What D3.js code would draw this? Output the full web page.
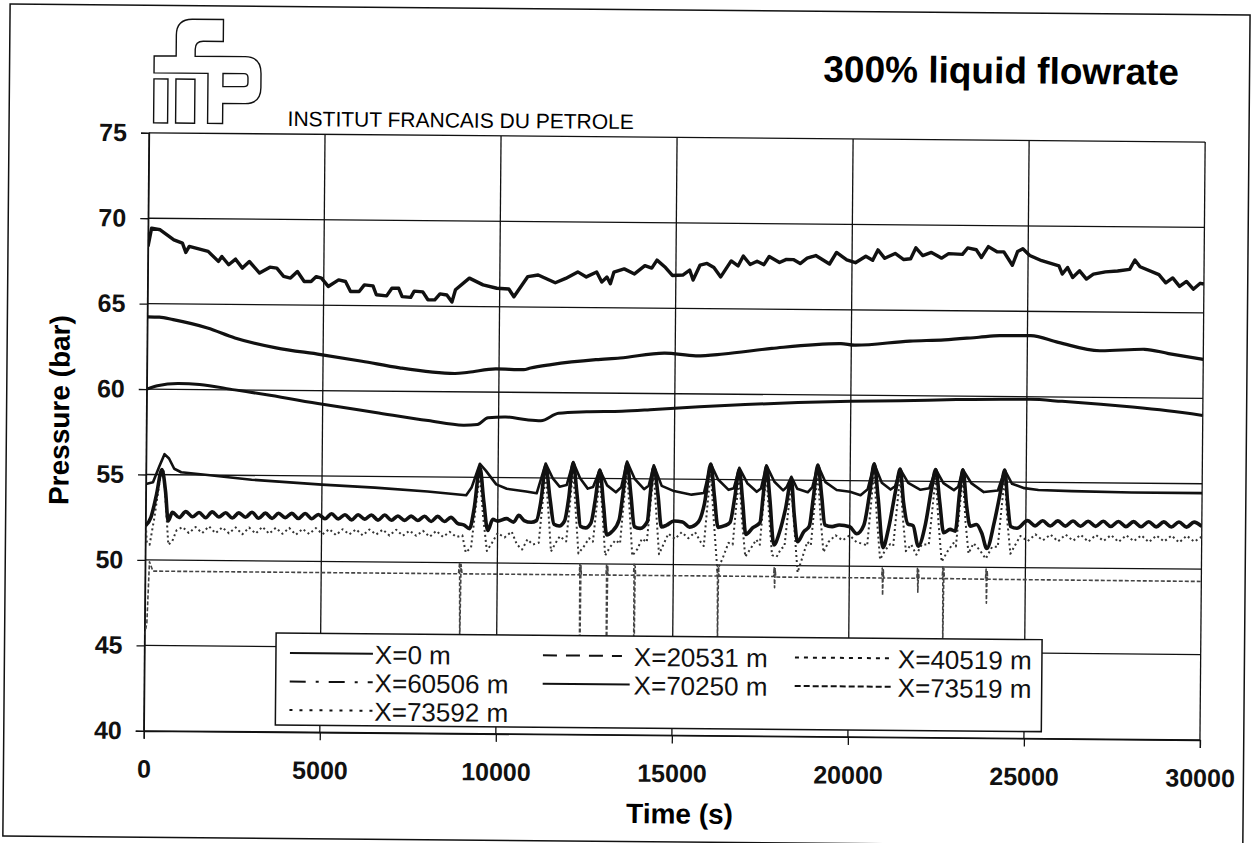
<!DOCTYPE html>
<html>
<head>
<meta charset="utf-8">
<script src="https://cdn.jsdelivr.net/npm/d3@7"></script>
<style>
body { margin: 0; background: #fff; }
text { font-family: "Liberation Sans", Arial, sans-serif; }
</style>
</head>
<body>
<div id="chart"></div>
<script>
// ---- data (time in s, pressure in bar) ----
var xTicks = [0, 5000, 10000, 15000, 20000, 25000, 30000];
var yTicks = [40, 45, 50, 55, 60, 65, 70, 75];
var seriesNames = ["X=0 m", "X=20531 m", "X=40519 m", "X=60506 m", "X=70250 m", "X=73519 m", "X=73592 m"];

var x0m = [[0,68.35],[98,69.42],[342,69.33],[733,68.75],[977,68.56],[1075,68.02],[1172,68.37],[1710,68.09],[2003,67.51],[2100,67.8],[2296,67.32],[2491,67.65],[2687,67.13],[2882,67.52],[3175,66.85],[3468,67.2],[3664,67.15],[3859,66.67],[4055,66.57],[4250,66.96],[4445,66.38],[4641,66.38],[4787,66.67],[4934,66.58],[5129,66.1],[5422,66.49],[5618,66.4],[5764,65.82],[6009,65.82],[6155,66.21],[6400,66.16],[6497,65.64],[6790,65.58],[6937,66.03],[7132,66.03],[7230,65.54],[7474,65.5],[7572,65.87],[7816,65.83],[7963,65.37],[8158,65.37],[8305,65.72],[8500,65.66],[8646,65.25],[8744,65.97],[9135,66.66],[9526,66.27],[9917,66.08],[10259,66.04],[10405,65.59],[10796,66.78],[11089,66.88],[11577,66.43],[11871,66.69],[12213,67.08],[12457,66.79],[12750,67.08],[12897,66.5],[13043,66.79],[13141,66.4],[13238,67.08],[13531,67.28],[13824,66.99],[14118,67.48],[14313,67.34],[14460,67.81],[14704,67.38],[14900,66.92],[15196,66.95],[15392,67.24],[15490,66.66],[15686,67.54],[15882,67.64],[16078,67.41],[16274,66.86],[16568,67.8],[16764,67.51],[16911,68.09],[17107,67.6],[17303,67.79],[17499,67.6],[17646,68.08],[17940,67.73],[18136,67.92],[18332,67.91],[18528,67.68],[18724,68.0],[18969,68.16],[19361,67.67],[19557,68.35],[19851,67.92],[20096,67.76],[20390,68.14],[20586,67.91],[20733,68.52],[20929,68.03],[21223,68.32],[21468,67.97],[21664,68.02],[21811,68.66],[22007,68.21],[22252,68.4],[22546,68.07],[22742,68.34],[23134,68.3],[23281,68.68],[23526,68.58],[23673,68.13],[23869,68.77],[24114,68.47],[24310,68.47],[24555,67.69],[24702,68.5],[24849,68.66],[25045,68.27],[25388,67.97],[25878,67.68],[25976,67.2],[26123,67.59],[26270,67.01],[26466,67.4],[26662,66.92],[26858,67.21],[27201,67.35],[27544,67.41],[27887,67.51],[28034,68.06],[28181,67.67],[28720,67.22],[28916,66.74],[29112,67.03],[29308,66.54],[29504,66.83],[29700,66.38],[29896,66.73],[30000,66.69]];

var x20531m = [[0,64.23],[342,64.22],[733,64.08],[1710,63.61],[2491,63.04],[3664,62.48],[4934,62.11],[6106,61.74],[7181,61.37],[8744,61.07],[9135,61.15],[9917,61.36],[10698,61.33],[10894,61.43],[11480,61.64],[12750,61.95],[13434,62.06],[14704,62.37],[15588,62.23],[16372,62.35],[17744,62.7],[19704,63.02],[20096,62.93],[21664,63.2],[22644,63.29],[23624,63.46],[24212,63.56],[25094,63.58],[25878,63.2],[27054,62.73],[28328,62.84],[29014,62.6],[30000,62.28]];

var x40519m = [[0,60.0],[300,60.2],[900,60.35],[1500,60.3],[2500,60.0],[3500,59.7],[5000,59.2],[6500,58.75],[8000,58.3],[9000,58.05],[9400,58.1],[9700,58.5],[10200,58.55],[10800,58.4],[11200,58.35],[11700,58.8],[12500,58.9],[13500,58.95],[14300,59.05],[15000,59.15],[15700,59.25],[17000,59.4],[18500,59.55],[20000,59.65],[21400,59.7],[23000,59.8],[24500,59.85],[25100,59.85],[26000,59.75],[27100,59.6],[28000,59.45],[29000,59.25],[30000,59.0]];

var x60506m = [[0,54.45],[200,54.55],[380,55.5],[520,56.2],[650,55.95],[800,55.35],[1000,55.15],[1750,55.0],[3000,54.75],[5000,54.5],[6500,54.35],[8000,54.15],[9100,53.95],[9250,54.4],[9480,55.8],[9650,55.4],[9950,54.6],[10250,54.35],[10800,54.2],[11100,54.1],[11350,55.85],[11550,55.0],[11750,54.5],[11950,54.6],[12130,55.95],[12330,55.0],[12550,54.4],[12700,54.5],[12890,55.5],[13100,54.6],[13350,54.2],[13500,54.5],[13660,56.0],[13880,55.0],[14150,54.4],[14280,54.6],[14420,55.8],[14650,54.6],[15000,54.3],[15500,54.1],[15850,54.2],[16040,55.9],[16250,55.0],[16550,54.4],[16700,54.5],[16850,55.7],[17080,54.8],[17350,54.3],[17470,54.5],[17620,55.85],[17850,54.9],[18100,54.4],[18200,54.6],[18330,55.2],[18500,54.5],[18800,54.3],[18930,54.6],[19080,55.9],[19300,54.9],[19620,54.45],[20000,54.35],[20300,54.15],[20500,54.5],[20680,56.0],[20900,54.9],[21150,54.5],[21280,54.7],[21420,55.7],[21650,54.9],[22000,54.5],[22250,54.6],[22430,55.7],[22650,54.9],[22950,54.5],[23070,54.7],[23200,55.7],[23450,54.9],[23800,54.4],[24200,54.5],[24390,55.7],[24600,54.9],[24950,54.65],[25350,54.55],[26300,54.5],[28000,54.45],[30000,54.45]];

var x70250m = [[0,52.0],[150,52.5],[300,53.8],[450,55.3],[560,54.0],[640,52.3],[760,52.8],[950,52.5],[1140,52.85],[1330,52.55],[1515,52.8],[1705,52.5],[1890,52.85],[2080,52.55],[2270,52.8],[2460,52.5],[2645,52.8],[2835,52.55],[3020,52.85],[3210,52.5],[3400,52.8],[3590,52.5],[3775,52.8],[3965,52.55],[4150,52.8],[4340,52.5],[4530,52.8],[4720,52.5],[4905,52.75],[5095,52.5],[5280,52.8],[5470,52.5],[5660,52.75],[5850,52.45],[6035,52.75],[6225,52.5],[6410,52.75],[6600,52.45],[6790,52.75],[6980,52.45],[7165,52.7],[7355,52.45],[7540,52.7],[7730,52.45],[7920,52.7],[8110,52.4],[8295,52.7],[8485,52.4],[8670,52.65],[8860,52.3],[9050,52.2],[9200,52.0],[9330,53.2],[9480,55.6],[9600,53.6],[9720,51.9],[9860,52.55],[10000,52.45],[10250,52.6],[10450,52.4],[10600,52.8],[10750,52.5],[10950,52.4],[11100,52.5],[11220,53.6],[11350,55.7],[11480,53.8],[11600,52.3],[11750,52.2],[11900,52.5],[12010,53.8],[12130,55.9],[12250,54.0],[12350,52.2],[12500,52.1],[12650,52.4],[12770,53.8],[12890,55.5],[13000,53.5],[13100,51.7],[13250,51.9],[13450,52.6],[13560,54.3],[13660,55.9],[13780,54.0],[13880,52.2],[14050,52.1],[14250,52.5],[14330,54.2],[14420,55.7],[14550,54.0],[14650,52.2],[14800,52.3],[15000,52.55],[15250,52.5],[15450,52.2],[15700,52.5],[15870,53.6],[16040,55.9],[16150,54.0],[16260,52.2],[16450,52.3],[16600,52.5],[16730,54.0],[16850,55.6],[16950,53.8],[17050,51.8],[17250,52.2],[17450,52.5],[17530,54.0],[17620,55.8],[17720,54.0],[17850,51.2],[18000,51.9],[18170,53.3],[18330,55.0],[18420,53.0],[18520,51.4],[18700,52.0],[18850,52.3],[18960,54.0],[19080,55.9],[19200,54.0],[19290,52.4],[19500,52.3],[19700,52.4],[20000,52.3],[20200,51.9],[20400,52.4],[20560,54.3],[20680,56.0],[20800,54.0],[20950,51.1],[21100,52.2],[21300,54.5],[21420,55.7],[21520,53.8],[21650,52.5],[21800,52.4],[21950,51.2],[22150,52.5],[22310,54.5],[22430,55.7],[22550,53.8],[22670,52.0],[22850,52.2],[23000,52.1],[23110,54.3],[23200,55.7],[23320,53.5],[23420,52.4],[23600,52.5],[23750,52.0],[23900,51.1],[24100,52.6],[24280,54.5],[24390,55.7],[24480,53.8],[24570,52.4],[24750,52.3],[25050,52.75],[25265,52.45],[25480,52.75],[25695,52.45],[25910,52.75],[26125,52.45],[26340,52.75],[26555,52.45],[26770,52.75],[26985,52.45],[27200,52.75],[27415,52.45],[27630,52.75],[27845,52.45],[28060,52.75],[28275,52.45],[28490,52.75],[28705,52.45],[28920,52.75],[29135,52.45],[29350,52.75],[29565,52.45],[29780,52.75],[30000,52.5]];

var x73519m = [[0,45.6],[60,46.3],[120,49.9],[220,49.35],[8900,49.35],[8930,50.0],[8950,45.3],[8970,49.9],[9000,49.35],[12330,49.35],[12345,50.0],[12360,41],[12375,49.9],[12390,49.35],[13090,49.35],[13105,50.0],[13120,41],[13135,49.9],[13150,49.35],[13870,49.35],[13885,50.0],[13900,41],[13915,49.9],[13930,49.35],[16240,49.35],[16255,50.0],[16270,45.3],[16285,49.9],[16300,49.35],[17850,49.35],[17865,49.9],[17880,48.7],[17895,49.8],[17910,49.32],[20920,49.32],[20935,49.9],[20950,48.3],[20965,49.8],[20980,49.32],[21920,49.32],[21935,49.9],[21950,48.5],[21965,49.8],[21980,49.32],[22640,49.32],[22655,50.0],[22670,45.4],[22685,49.9],[22700,49.32],[23870,49.3],[23885,49.9],[23900,47.9],[23915,49.8],[23930,49.3],[30000,49.28]];

var x73592m = [[0,52.3],[40,51.0],[120,50.9],[250,52.5],[400,54.8],[500,55.2],[580,53.0],[650,50.9],[760,51.1],[880,51.75],[1050,51.95],[1230,51.6],[1420,51.95],[1610,51.6],[1800,52.0],[1990,51.6],[2180,51.95],[2370,51.6],[2560,51.95],[2750,51.55],[2940,51.95],[3130,51.6],[3320,52.0],[3510,51.6],[3700,51.95],[3890,51.6],[4080,51.95],[4270,51.55],[4460,51.9],[4650,51.6],[4840,51.95],[5030,51.6],[5220,51.9],[5410,51.55],[5600,51.9],[5790,51.6],[5980,51.9],[6170,51.55],[6360,51.9],[6550,51.6],[6740,51.9],[6930,51.55],[7120,51.9],[7310,51.55],[7500,51.85],[7690,51.55],[7880,51.85],[8070,51.5],[8260,51.85],[8450,51.5],[8640,51.8],[8830,51.5],[9000,51.6],[9100,50.6],[9250,50.9],[9370,53.2],[9480,55.2],[9580,52.8],[9700,50.7],[9850,51.2],[10000,51.75],[10200,51.5],[10400,51.85],[10550,51.1],[10700,50.8],[10850,51.4],[11000,51.1],[11170,51.2],[11260,53.3],[11350,55.3],[11440,53.0],[11520,50.7],[11650,51.2],[11770,51.6],[11950,51.3],[12040,53.3],[12130,55.5],[12220,52.9],[12300,50.6],[12450,51.0],[12600,51.5],[12710,51.3],[12800,53.2],[12890,55.1],[12980,52.8],[13060,50.5],[13200,51.0],[13350,51.4],[13480,51.2],[13570,53.5],[13660,55.5],[13750,53.0],[13830,50.5],[13980,50.9],[14100,51.5],[14240,51.3],[14330,53.4],[14420,55.4],[14510,52.8],[14590,50.6],[14720,51.2],[14850,51.8],[15040,51.5],[15230,51.9],[15420,51.55],[15610,51.9],[15780,51.3],[15860,51.1],[15950,53.4],[16040,55.5],[16130,52.8],[16250,49.7],[16400,50.4],[16560,51.3],[16680,51.2],[16760,53.2],[16850,55.2],[16940,52.6],[17040,50.5],[17200,51.0],[17350,51.5],[17450,51.2],[17530,53.3],[17620,55.4],[17710,52.8],[17800,50.6],[17930,50.5],[18060,51.0],[18150,51.1],[18240,53.0],[18330,54.7],[18420,52.4],[18530,49.6],[18680,50.6],[18800,51.4],[18900,51.2],[18990,53.4],[19080,55.5],[19170,52.8],[19260,50.8],[19400,51.4],[19600,51.8],[19800,51.5],[20000,51.8],[20200,51.4],[20400,51.3],[20500,51.2],[20590,53.4],[20680,55.6],[20770,52.8],[20870,50.4],[21000,50.9],[21150,51.3],[21240,51.2],[21330,53.3],[21420,55.3],[21510,52.8],[21600,50.9],[21750,51.3],[21900,50.7],[22050,51.3],[22250,51.3],[22340,53.3],[22430,55.3],[22520,52.6],[22620,50.3],[22780,50.9],[22950,51.4],[23020,51.2],[23110,53.3],[23200,55.3],[23290,52.6],[23380,50.8],[23520,51.4],[23700,51.0],[23870,50.5],[24050,51.2],[24210,51.2],[24300,53.3],[24390,55.3],[24480,52.6],[24570,50.8],[24700,51.3],[24850,51.85],[25060,51.55],[25275,51.95],[25490,51.6],[25705,51.95],[25920,51.55],[26135,51.95],[26350,51.6],[26565,51.95],[26780,51.55],[26995,51.95],[27210,51.6],[27425,51.95],[27640,51.55],[27855,51.95],[28070,51.6],[28285,51.95],[28500,51.55],[28715,51.95],[28930,51.6],[29145,51.95],[29360,51.55],[29575,51.95],[29790,51.6],[30000,51.9]];

var seriesData = [x0m, x20531m, x40519m, x60506m, x70250m, x73519m, x73592m];

// ---- drawing ----
var width = 1254, height = 843;
var box = {left: 146.5, right: 1202.7, top: 137, bottom: 735};
var font = "'Liberation Sans', Arial, sans-serif";

var svg = d3.select("#chart").append("svg")
    .attr("width", width)
    .attr("height", height);

// the scan is tilted a little, so everything goes in one rotated group
var g = svg.append("g").attr("transform", "rotate(0.5,627,421)");

g.append("rect")
    .attr("x", 6.5).attr("y", 9.5)
    .attr("width", 1240).attr("height", 832)
    .attr("fill", "none").attr("stroke", "#111").attr("stroke-width", 1.5);

var x = d3.scaleLinear().domain([0, 30000]).range([box.left, box.right]);
var y = d3.scaleLinear().domain([40, 75]).range([box.bottom, box.top]);

// grid
g.append("g").selectAll("line").data(yTicks).enter().append("line")
    .attr("x1", box.left).attr("x2", box.right)
    .attr("y1", function(d){ return y(d); }).attr("y2", function(d){ return y(d); })
    .attr("stroke", "#111").attr("stroke-width", 1.3);
g.append("g").selectAll("line").data(xTicks).enter().append("line")
    .attr("y1", box.top).attr("y2", box.bottom)
    .attr("x1", function(d){ return x(d); }).attr("x2", function(d){ return x(d); })
    .attr("stroke", "#111").attr("stroke-width", 1.3);

// axes
var xAxis = g.append("g")
    .attr("transform", "translate(0," + box.bottom + ")")
    .call(d3.axisBottom(x).tickValues(xTicks).tickSize(8).tickPadding(21).tickFormat(d3.format("d")));
var yAxis = g.append("g")
    .attr("transform", "translate(" + box.left + ",0)")
    .call(d3.axisLeft(y).tickValues(yTicks).tickSize(8).tickPadding(14).tickFormat(d3.format("d")));
[xAxis, yAxis].forEach(function(a){
    a.attr("font-family", font).attr("font-size", 25).attr("font-weight", "bold");
    a.selectAll("path,line").attr("stroke", "#111").attr("stroke-width", 1.3);
    a.selectAll("text").attr("fill", "#111");
});

// series
var styles = [
    {w: 3.4, dash: null, color: "#111", curve: d3.curveLinear},
    {w: 3.2, dash: null, color: "#111", curve: d3.curveMonotoneX},
    {w: 3.0, dash: null, color: "#111", curve: d3.curveMonotoneX},
    {w: 2.6, dash: null, color: "#111", curve: d3.curveLinear},
    {w: 3.6, dash: null, color: "#111", curve: d3.curveMonotoneX},
    {w: 1.6, dash: "4,2", color: "#444", curve: d3.curveLinear},
    {w: 2.0, dash: "2,3", color: "#333", curve: d3.curveLinear}
];
var drawOrder = [5, 6, 2, 1, 3, 4, 0];

svg.append("defs").append("clipPath").attr("id", "plotclip")
    .append("rect").attr("x", box.left).attr("y", box.top - 5)
    .attr("width", box.right - box.left).attr("height", box.bottom - box.top + 5);

var lines = g.append("g").attr("clip-path", "url(#plotclip)");
drawOrder.forEach(function(i){
    var st = styles[i];
    var line = d3.line()
        .curve(st.curve)
        .x(function(d){ return x(d[0]); })
        .y(function(d){ return y(d[1]); });
    lines.append("path")
        .attr("d", line(seriesData[i]))
        .attr("fill", "none")
        .attr("stroke", st.color)
        .attr("stroke-width", st.w)
        .attr("stroke-linejoin", "round")
        .attr("stroke-dasharray", st.dash);
});

// legend
var legend = g.append("g");
legend.append("rect")
    .attr("x", 278).attr("y", 636).attr("width", 766).attr("height", 92)
    .attr("fill", "#fff").attr("stroke", "#111").attr("stroke-width", 1.5);
var legendDash = [null, "14,9", "4,5", "16,10,3,10", null, "6,3", "3,7"];
// sample start, sample end, text start for each column
var colX = [[292, 375, 377], [545, 624, 636], [797, 895, 900]];
var rowY = [666, 694.5, 723];
seriesNames.forEach(function(name, i){
    var c = colX[i % 3], r = rowY[Math.floor(i / 3)];
    legend.append("line")
        .attr("x1", c[0]).attr("x2", i === 4 ? c[1] + 8 : c[1])
        .attr("y1", r - 10).attr("y2", r - 10)
        .attr("stroke", "#111").attr("stroke-width", 2)
        .attr("stroke-dasharray", legendDash[i]);
    legend.append("text")
        .attr("x", c[2]).attr("y", r)
        .attr("font-size", 26).attr("fill", "#111")
        .text(name);
});

// titles
g.append("text")
    .attr("x", 683).attr("y", 823)
    .attr("text-anchor", "middle")
    .attr("font-size", 28).attr("font-weight", "bold")
    .text("Time (s)");
g.append("text")
    .attr("transform", "translate(69,415) rotate(-90)")
    .attr("text-anchor", "middle")
    .attr("font-size", 28).attr("font-weight", "bold")
    .text("Pressure (bar)");
g.append("text")
    .attr("x", 1176).attr("y", 80)
    .attr("text-anchor", "end")
    .attr("font-size", 37).attr("font-weight", "bold")
    .text("300% liquid flowrate");
g.append("text")
    .attr("x", 285).attr("y", 129)
    .attr("font-size", 21)
    .text("INSTITUT FRANCAIS DU PETROLE");

// ifp logo, outline letters
var logo = g.append("g")
    .attr("transform", "translate(-2,3)")
    .attr("fill", "#fff").attr("stroke", "#111").attr("stroke-width", 1.4);
logo.append("path")
    .attr("d", "M153,57 H175 V36 Q175,20 191,20 H222 V42 H202 Q194,42 194,50 V57 H244 Q260,57 260,74 V88 Q260,104 244,104 H222 V124 H207 V74 H153 Z");
logo.append("path")
    .attr("d", "M222,74 H243 Q247,74 247,78 V83 Q247,87 243,87 H222 Z");
logo.append("rect").attr("x", 153).attr("y", 80).attr("width", 14).attr("height", 44);
logo.append("rect").attr("x", 175).attr("y", 80).attr("width", 19).attr("height", 44);
</script>
</body>
</html>
